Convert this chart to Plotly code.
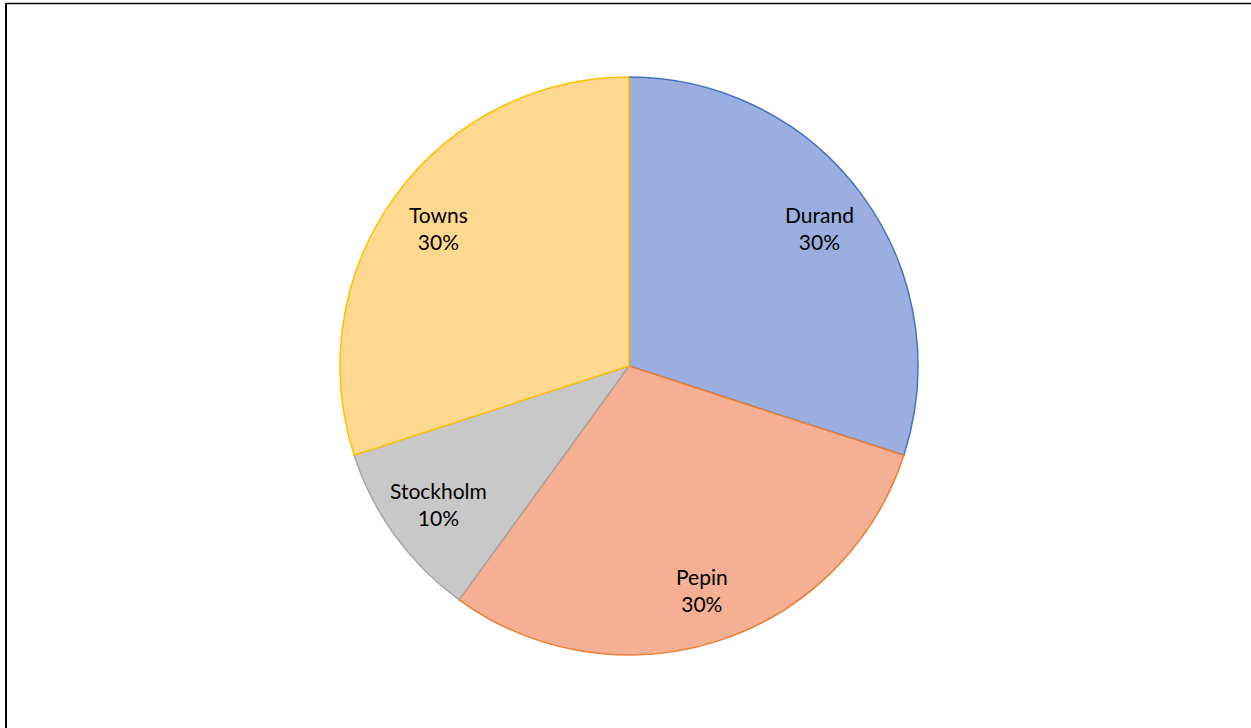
import math
import plotly.graph_objects as go

labels = ["Durand", "Pepin", "Stockholm", "Towns"]
values = [30, 30, 10, 30]
fill_colors = ["#9BAEDF", "#F5B093", "#C8C8C8", "#FFD88F"]
line_colors = ["#4472C4", "#ED7D31", "#A5A5A5", "#FFC000"]

W, H = 1251, 728
cx, cy, r = 629, 366, 289
label_frac = 0.815

fig = go.Figure(go.Pie(
    labels=labels,
    values=values,
    sort=False,
    direction="clockwise",
    rotation=0,
    marker=dict(colors=fill_colors, line=dict(color=line_colors, width=1.5)),
    textinfo="none",
    showlegend=False,
    hoverinfo="label+percent",
    domain=dict(x=[(cx - r) / W, (cx + r) / W], y=[1 - (cy + r) / H, 1 - (cy - r) / H]),
))

# Data labels placed along each slice's mid-angle (Excel-style "best fit")
total = sum(values)
annotations = []
cum = 0
for lab, v in zip(labels, values):
    mid = (cum + v / 2) / total * 2 * math.pi
    cum += v
    px = cx + label_frac * r * math.sin(mid)
    py = cy - label_frac * r * math.cos(mid)
    annotations.append(dict(
        x=px / W, y=1 - py / H, xref="paper", yref="paper",
        text=f"{lab}<br>{round(v / total * 100)}%",
        showarrow=False, xanchor="center", yanchor="middle",
        font=dict(family="Lato, Noto Sans, sans-serif", size=21, color="#000000"),
    ))

fig.update_layout(
    width=W, height=H,
    margin=dict(l=0, r=0, t=0, b=0),
    paper_bgcolor="white",
    plot_bgcolor="white",
    annotations=annotations,
    shapes=[
        dict(type="line", xref="paper", yref="paper", x0=6 / W, x1=6 / W, y0=0, y1=1 - 3 / H,
             line=dict(color="black", width=2)),
        dict(type="line", xref="paper", yref="paper", x0=6 / W, x1=1, y0=1 - 3.5 / H, y1=1 - 3.5 / H,
             line=dict(color="black", width=1.5)),
    ],
)

fig.write_html(
    "out.html",
    config={"displayModeBar": False},
    post_script="document.body.style.margin='0';document.body.style.padding='0';",
)
